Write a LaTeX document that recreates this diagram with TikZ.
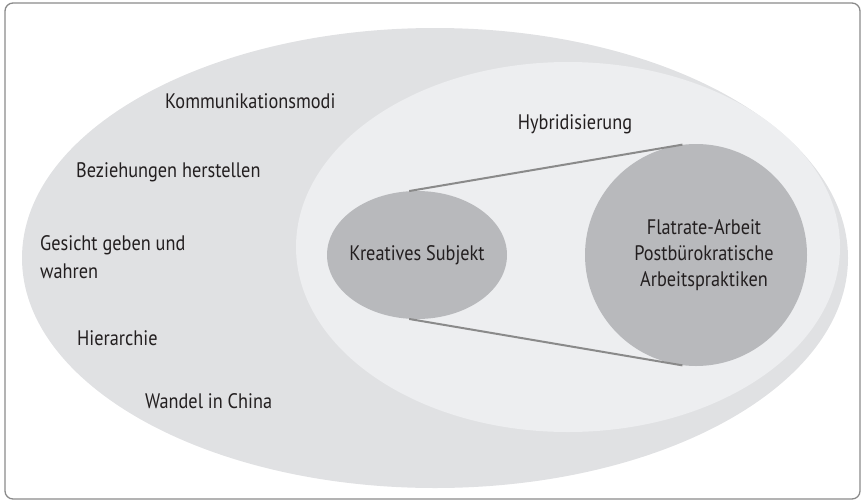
\documentclass[tikz,border=0pt]{standalone}
\usepackage{fontspec}
\setmainfont{PT Sans}[FakeStretch=0.87]
\usetikzlibrary{shapes.geometric}
\definecolor{outergray}{HTML}{E0E1E3}
\definecolor{innergray}{HTML}{EDEEF0}
\definecolor{kerngray}{HTML}{B8B9BC}
\definecolor{linegray}{HTML}{8A8A8A}
\definecolor{textgray}{HTML}{231F20}
\tikzset{
  lbl/.style={anchor=west, inner sep=0pt, text=textgray, font=\fontsize{21}{28}\selectfont, align=left},
  kern/.style={fill=kerngray, inner sep=0pt, text=textgray, font=\fontsize{21}{26}\selectfont, align=center}
}
\begin{document}
\begin{tikzpicture}[x=1pt,y=-1pt]
\useasboundingbox (0,0) rectangle (864,501);
% frame and the two big ellipses
\draw [rounded corners=8pt, color=linegray, line width=1.3pt] (5,3) rectangle (860,499);
\fill[color=outergray] (435,258) ellipse [x radius=413, y radius=230];
\fill[color=innergray] (568,247) ellipse [x radius=272, y radius=185];

% inner shapes
\node[kern, ellipse, minimum width=180pt, minimum height=128pt] (ks) at (417,255) {};
\node[kern, fill=none] (kstext) at (417,255) {Kreatives Subjekt};
\node[kern, circle, minimum size=222pt] (fa) at (696,255) {};
\node[kern, fill=none] (fatext) at (704,255) {Flatrate-Arbeit\\Postbürokratische\\Arbeitspraktiken};
\draw [color=linegray, line width=2pt] (ks.97) -- (fa.97);
\draw [color=linegray, line width=2pt] (ks.263) -- (fa.263);

\node[lbl, anchor=center] (hyb) at (575,124) {Hybridisierung};
\node[lbl] (kom) at (165,101) {Kommunikationsmodi};
\node[lbl] (bez) at (76,172) {Beziehungen herstellen};
\node[lbl] (ges) at (40,257) {Gesicht geben und\\wahren};
\node[lbl] (hie) at (77,338) {Hierarchie};
\node[lbl] (wan) at (145,401) {Wandel in China};
\end{tikzpicture}
\end{document}
